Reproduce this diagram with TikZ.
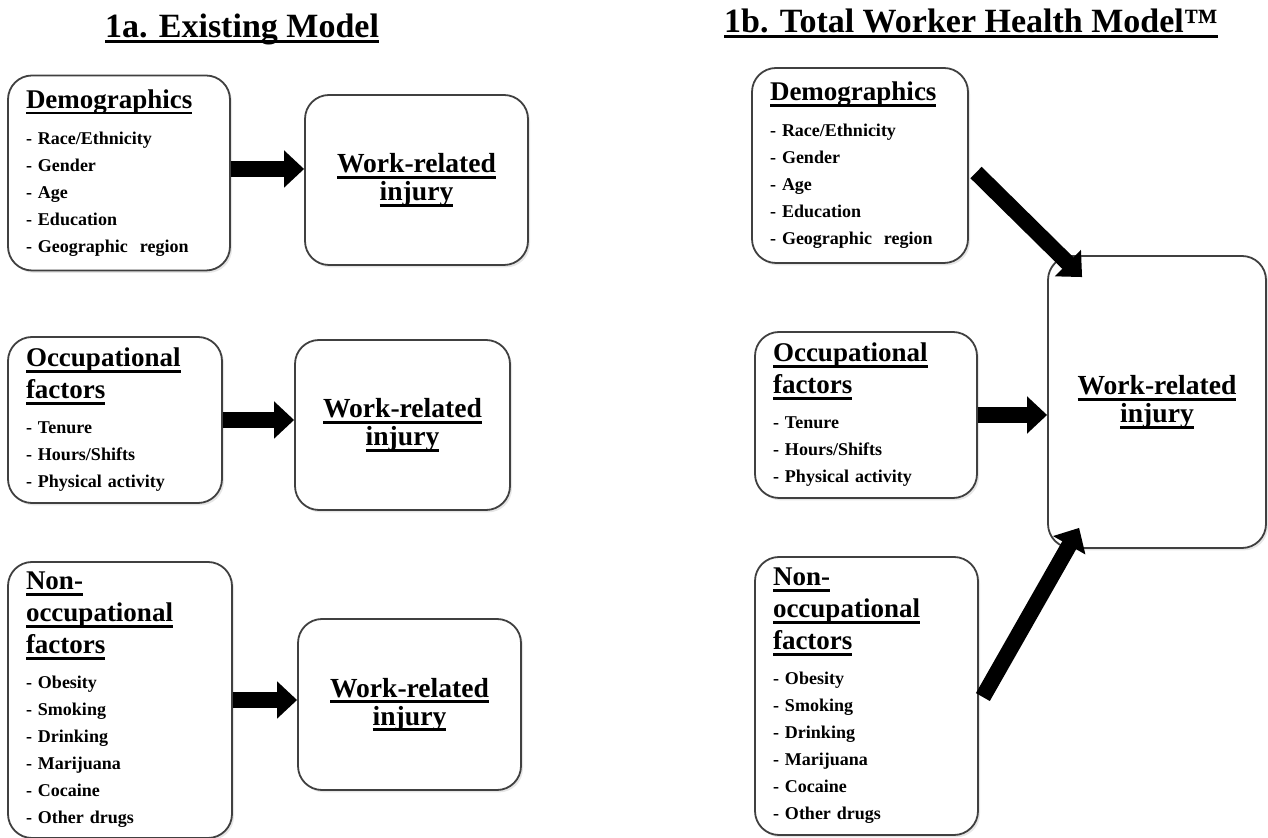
\documentclass[tikz,border=0pt]{standalone}
\usepackage{fontspec}
\setmainfont{Liberation Serif}
\usetikzlibrary{arrows.meta,calc,shadows}

\newcommand{\ulhead}[2][3pt]{\leavevmode\setbox0\hbox{#2}\rlap{\rule[-#1]{\wd0}{1.4pt}}\box0}
\newcommand{\headfont}{\fontsize{13.5}{16}\selectfont}
\newcommand{\itemfont}{\fontsize{9}{13.5}\selectfont}
\newcommand{\injfont}{\fontsize{13.8}{14}\selectfont}
\newcommand{\titlefont}{\fontsize{17}{20}\selectfont}

\tikzset{
  factorbox/.style={draw=black!75,line width=0.9pt,rounded corners=12pt,fill=white,
    drop shadow={opacity=0.2,shadow xshift=1pt,shadow yshift=-1.2pt},
    align=left,inner xsep=9pt,inner ysep=3pt,font=\bfseries\itemfont},
  injurybox/.style={draw=black!75,line width=0.9pt,rounded corners=12pt,fill=white,
    drop shadow={opacity=0.2,shadow xshift=1pt,shadow yshift=-1.2pt},
    align=center,font=\bfseries\injfont},
  bigarrow/.style={line width=8pt,-{Triangle[length=10pt,width=18pt]}},
  title/.style={font=\bfseries\titlefont,anchor=base}
}

\begin{document}
\begin{tikzpicture}[x=0.5pt,y=-0.5pt]
    \useasboundingbox (0,0) rectangle (1268,838);
      \node[title] (titleA) at (242,38) {\ulhead[2.6pt]{1a. Existing Model}};
      \node[title] (titleB) at (971,33) {\ulhead[2.6pt]{1b. Total Worker Health Model™}};

      \node[factorbox,minimum width=111pt,minimum height=97.5pt,text width=93pt] (demA) at (119,173)
        {\ulhead{\headfont Demographics}\\[4.5pt]
         - Race/Ethnicity\\ - Gender\\ - Age\\ - Education\\ - Geographic~ region};
      \node[factorbox,minimum width=107pt,minimum height=83pt,text width=89pt] (occA) at (115,420)
        {\ulhead{\headfont Occupational}\\[2.5pt] \ulhead{\headfont factors}\\[4pt]
         - Tenure\\ - Hours/Shifts\\ - Physical activity};
      \node[factorbox,minimum width=112pt,minimum height=138pt,text width=94pt] (nonA) at (120,700)
        {\ulhead{\headfont Non-}\\[2.5pt] \ulhead{\headfont occupational}\\[2.5pt] \ulhead{\headfont factors}\\[4pt]
         - Obesity\\ - Smoking\\ - Drinking\\ - Marijuana\\ - Cocaine\\ - Other drugs};

      \node[injurybox,minimum width=111.5pt,minimum height=85pt] (injA1) at (416.5,180) {\ulhead{Work-related}\\ \ulhead{injury}};
      \node[injurybox,minimum width=107.5pt,minimum height=85pt] (injA2) at (402.5,425) {\ulhead{Work-related}\\ \ulhead{injury}};
      \node[injurybox,minimum width=111.5pt,minimum height=85.5pt] (injA3) at (409.5,704.5) {\ulhead{Work-related}\\ \ulhead{injury}};

      \node[factorbox,minimum width=108pt,minimum height=97.5pt,text width=90pt] (demB) at (860,165.5)
        {\ulhead{\headfont Demographics}\\[4.5pt]
         - Race/Ethnicity\\ - Gender\\ - Age\\ - Education\\ - Geographic~ region};
      \node[factorbox,minimum width=111pt,minimum height=83pt,text width=93pt] (occB) at (866,415)
        {\ulhead{\headfont Occupational}\\[2.5pt] \ulhead{\headfont factors}\\[4pt]
         - Tenure\\ - Hours/Shifts\\ - Physical activity};
      \node[factorbox,minimum width=111.5pt,minimum height=139pt,text width=93.5pt] (nonB) at (866.5,696)
        {\ulhead{\headfont Non-}\\[2.5pt] \ulhead{\headfont occupational}\\[2.5pt] \ulhead{\headfont factors}\\[4pt]
         - Obesity\\ - Smoking\\ - Drinking\\ - Marijuana\\ - Cocaine\\ - Other drugs};
      \node[injurybox,minimum width=109pt,minimum height=146pt] (injB) at (1157,402) {\ulhead{Work-related}\\ \ulhead{injury}};

      \draw[bigarrow] ([yshift=2pt]demA.east) -- ([yshift=2pt]demA.east -| injA1.west);
      \draw[bigarrow] (occA.east) -- (occA.east -| injA2.west);
      \draw[bigarrow] (nonA.east) -- (nonA.east -| injA3.west);
      \draw[bigarrow] (occB.east) -- (occB.east -| injB.west);
      \draw[bigarrow,shorten <=5pt] (demB.east) -- ($(injB.north west)+(35,22)$);
      \draw[bigarrow,shorten <=4pt] ($(nonB.east)+(0,8)$) -- ($(injB.south west)+(32,-21)$);
     \end{tikzpicture}
\end{document}
